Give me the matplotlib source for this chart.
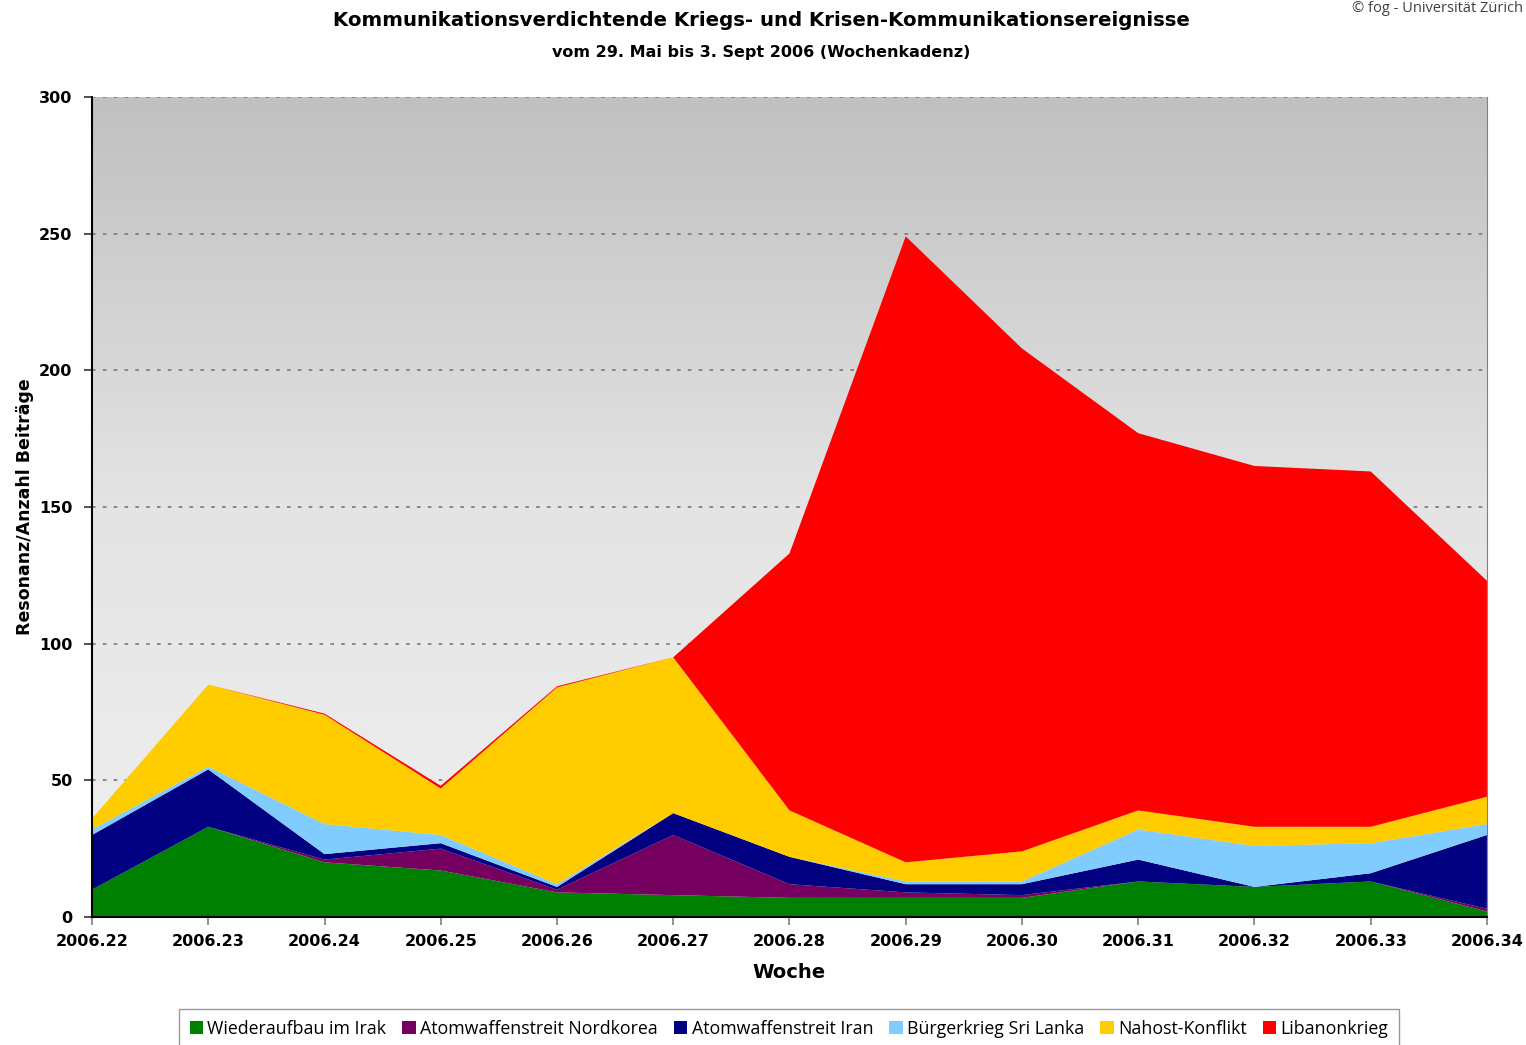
import numpy as np
import matplotlib
matplotlib.use('Agg')
import matplotlib.pyplot as plt
from matplotlib.patches import Patch

weeks = ['2006.22', '2006.23', '2006.24', '2006.25', '2006.26', '2006.27', '2006.28',
         '2006.29', '2006.30', '2006.31', '2006.32', '2006.33', '2006.34']

# values per series (stacked bottom to top)
irak = [10, 33, 20, 17, 9, 8, 7, 7, 7, 13, 11, 13, 2]
nordkorea = [0, 0, 1, 8, 1, 22, 5, 2, 1, 0, 0, 0, 1]
iran = [20, 21, 2, 2, 1, 8, 10, 3, 4, 8, 0, 3, 27]
srilanka = [2, 1, 11, 3, 1, 0, 0, 1, 1, 11, 15, 11, 4]
nahost = [4, 30, 40, 17, 72, 57, 17, 7, 11, 7, 7, 6, 10]
libanon = [0, 0, 0.4, 1, 0.4, 0, 94, 229, 184, 138, 132, 130, 79]

labels = ['Wiederaufbau im Irak', 'Atomwaffenstreit Nordkorea', 'Atomwaffenstreit Iran',
          'Bürgerkrieg Sri Lanka', 'Nahost-Konflikt', 'Libanonkrieg']
colors = ['#008000', '#760060', '#000080', '#80ccff', '#ffcc00', '#ff0000']

fig = plt.figure(figsize=(15.26, 10.45), dpi=100)
ax = fig.add_axes([0.0603, 0.1225, 0.9141, 0.7847])

x = np.arange(len(weeks))

# gray gradient background
grad = np.linspace(0, 1, 256).reshape(-1, 1)
ax.imshow(grad, cmap=matplotlib.colors.LinearSegmentedColormap.from_list(
    'bg', ['#f0f0f0', '#e4e4e4', '#c0c0c0']),
    extent=[0, len(weeks) - 1, 0, 300], origin='lower', aspect='auto', zorder=0)

ax.stackplot(x, irak, nordkorea, iran, srilanka, nahost, libanon,
             colors=colors, labels=labels, zorder=2, linewidth=0)

for v in range(50, 301, 50):
    ax.axhline(v, color='#808080', linestyle=(0, (2, 4)), linewidth=1.3, zorder=1)

ax.set_xlim(0, len(weeks) - 1)
ax.set_ylim(0, 300)
ax.set_xticks(x)
ax.set_xticklabels(weeks, fontsize=11.5, fontweight='bold')
ax.set_yticks(range(0, 301, 50))
ax.set_yticklabels([str(v) for v in range(0, 301, 50)], fontsize=11.5, fontweight='bold')
ax.tick_params(axis='x', direction='out', length=6, color='#808080', width=1.2, pad=6)
ax.tick_params(axis='y', direction='out', length=6, color='#333333', width=1.2, pad=8)

ax.spines['top'].set_visible(False)
ax.spines['right'].set_color('#808080')
ax.spines['left'].set_linewidth(1.5)
ax.spines['bottom'].set_linewidth(1.5)

ax.set_xlabel('Woche', fontsize=14, fontweight='bold', labelpad=10)
ax.set_ylabel('Resonanz/Anzahl Beiträge', fontsize=12.5, fontweight='bold', labelpad=4)

fig.text(0.499, 0.980, 'Kommunikationsverdichtende Kriegs- und Krisen-Kommunikationsereignisse',
         ha='center', va='center', fontsize=14.2, fontweight='bold')
fig.text(0.499, 0.950, 'vom 29. Mai bis 3. Sept 2006 (Wochenkadenz)',
         ha='center', va='center', fontsize=11.5, fontweight='bold')
fig.text(0.998, 0.999, '© fog - Universität Zürich', ha='right', va='top',
         fontsize=10.5, color='#404040', family='Open Sans')

handles = [Patch(facecolor=c, edgecolor='none') for c in colors]
leg = fig.legend(handles, labels, loc='lower center', bbox_to_anchor=(0.517, -0.012),
                 ncol=6, frameon=True, fancybox=False, edgecolor='#808080',
                 prop={'family': 'Open Sans', 'size': 12.8}, handlelength=0.75,
                 handleheight=0.75, handletextpad=0.25, columnspacing=0.9,
                 borderpad=0.6)
leg.get_frame().set_linewidth(1.0)

fig.savefig('out.png', dpi=100)
